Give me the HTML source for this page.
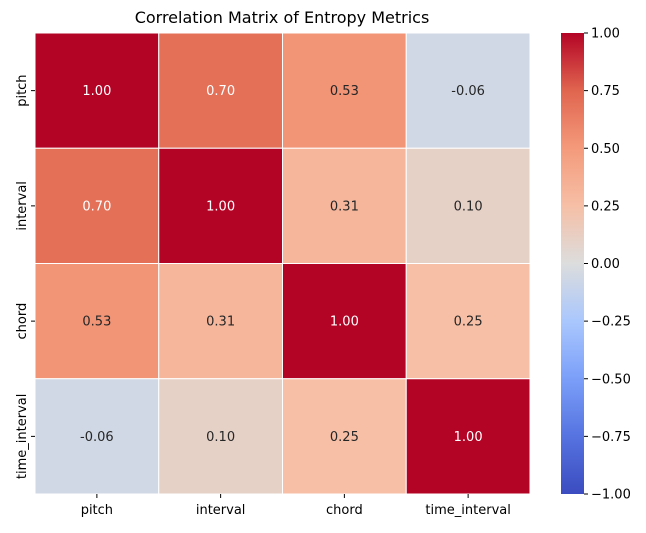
<!DOCTYPE html>
<html><head><meta charset="utf-8"><style>
body{margin:0;background:#fff}
svg text{font-family:"DejaVu Sans","Liberation Sans",sans-serif;}
</style></head><body>
<svg id="chart" width="646" height="528" xmlns="http://www.w3.org/2000/svg">
<defs><linearGradient id="cw" x1="0" y1="1" x2="0" y2="0">
<stop offset="0" stop-color="#3b4cc0"/><stop offset="0.125" stop-color="#5673e0"/><stop offset="0.25" stop-color="#7b9ff9"/><stop offset="0.375" stop-color="#aac7fd"/><stop offset="0.5" stop-color="#dcdddd"/><stop offset="0.625" stop-color="#f6bfa6"/><stop offset="0.75" stop-color="#f49a7b"/><stop offset="0.875" stop-color="#e0654f"/><stop offset="1" stop-color="#b40426"/>
</linearGradient></defs>
<text x="282" y="23" font-size="16" text-anchor="middle">Correlation Matrix of Entropy Metrics</text>
<g id="cells"></g>
<rect x="561" y="33" width="23" height="461" fill="url(#cw)"/>
<g id="cbticks"></g>
</svg>
<script>
const labels=["pitch","interval","chord","time_interval"];
const values=[[1.00,0.70,0.53,-0.06],[0.70,1.00,0.31,0.10],[0.53,0.31,1.00,0.25],[-0.06,0.10,0.25,1.00]];
const cbTicks=[1.00,0.75,0.50,0.25,0.00,-0.25,-0.50,-0.75,-1.00];
const X0=35,Y0=33,W=495,H=461;
const stops=[[0,"3b4cc0"],[0.125,"5673e0"],[0.25,"7b9ff9"],[0.375,"aac7fd"],[0.5,"dcdddd"],[0.625,"f6bfa6"],[0.75,"f49a7b"],[0.875,"e0654f"],[1,"b40426"]];
function color(v){const t=(v+1)/2;for(let i=1;i<stops.length;i++){if(t<=stops[i][0]){const a=stops[i-1],b=stops[i],f=(t-a[0])/(b[0]-a[0]);const ca=parseInt(a[1],16),cb=parseInt(b[1],16);const ch=s=>Math.round(((ca>>s)&255)*(1-f)+((cb>>s)&255)*f);return `rgb(${ch(16)},${ch(8)},${ch(0)})`;}}return "#b40426";}
const NS="http://www.w3.org/2000/svg";
const svg=document.getElementById('chart'),g=document.getElementById('cells'),cbg=document.getElementById('cbticks');
const n=labels.length,cw=W/n,chh=H/n;
function el(tag,attrs,parent){const e=document.createElementNS(NS,tag);for(const k in attrs)e.setAttribute(k,attrs[k]);parent.appendChild(e);return e;}
values.forEach((row,i)=>row.forEach((v,j)=>{
 const r=el('rect',{x:X0+j*cw,y:Y0+i*chh,width:cw,height:chh,fill:color(v),stroke:'#fff','stroke-width':1},g);
 
 
 const t=el('text',{x:X0+(j+0.5)*cw,y:Y0+(i+0.5)*chh+4.5,'font-size':13,'text-anchor':'middle',fill:Math.abs(v)>0.6?'#fff':'#262626'},g);
 t.textContent=v.toFixed(2);
 
 
}));
labels.forEach((l,i)=>{
 const cx=X0+(i+0.5)*cw;
 el('line',{x1:cx,y1:Y0+H,x2:cx,y2:Y0+H+4,stroke:'#000'},svg);
 const t=el('text',{x:cx,y:Y0+H+20,'font-size':13,'text-anchor':'middle'},svg);
 t.textContent=l;
 
 
 const cy=Y0+(i+0.5)*chh;
 el('line',{x1:X0-4,y1:cy,x2:X0,y2:cy,stroke:'#000'},svg);
 const ty=el('text',{x:0,y:0,'font-size':13,'text-anchor':'middle',transform:`translate(${X0-9},${cy}) rotate(-90)`},svg);
 ty.textContent=l;
 
 
});
cbTicks.forEach(v=>{
 const y=Y0+H*(1-v)/2;
 el('line',{x1:584,y1:y,x2:588,y2:y,stroke:'#000'},cbg);
 const t=el('text',{x:591,y:y+4.5,'font-size':13},cbg);
 t.textContent=v.toFixed(2).replace('-','\u2212');
 
 
});
</script>
</body></html>
